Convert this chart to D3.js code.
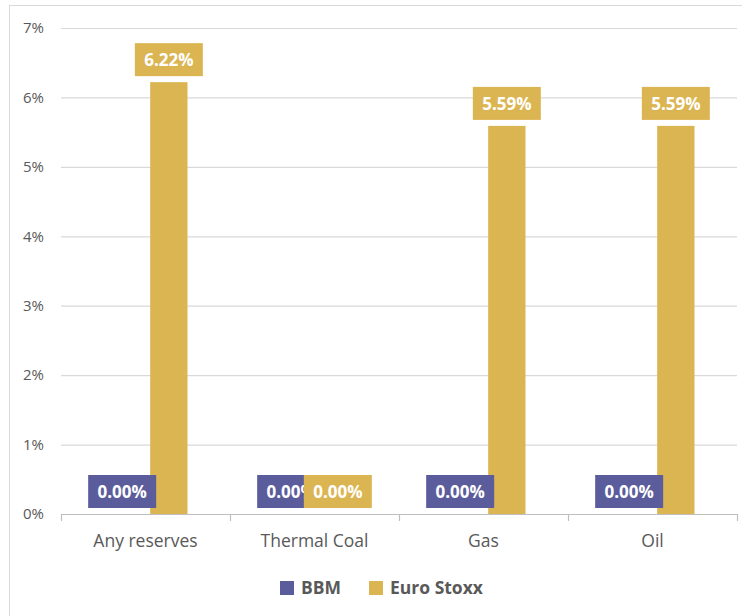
<!DOCTYPE html>
<html>
<head>
<meta charset="utf-8">
<script src="https://cdn.jsdelivr.net/npm/d3@7"></script>
<style>
  body { margin: 0; background: #fff; }
  svg { display: block; font-family: 'Open Sans', 'Noto Sans', sans-serif; }
</style>
</head>
<body>
<div id="chart"></div>
<script>
// Data
var categories = ['Any reserves', 'Thermal Coal', 'Gas', 'Oil'];
var seriesNames = ['BBM', 'Euro Stoxx'];
var bbmValues = [0, 0, 0, 0];
var euroStoxxValues = [6.22, 0, 5.59, 5.59];
var yTicks = [0, 1, 2, 3, 4, 5, 6, 7];

var attrs = {
  svgWidth: 742,
  svgHeight: 616,
  plotLeft: 61,
  plotRight: 737,
  plotTop: 28,
  plotBottom: 514,
  colors: ['#5b5c9c', '#dcb553'],
  textFill: '#595959',
  gridColor: '#d9d9d9'
};

var series = [bbmValues, euroStoxxValues];

var svg = d3.select('#chart').append('svg')
  .attr('width', attrs.svgWidth)
  .attr('height', attrs.svgHeight);

// outer chart frame
svg.append('rect')
  .attr('x', 9.5).attr('y', 5.5)
  .attr('width', 760).attr('height', 640)
  .attr('fill', 'none')
  .attr('stroke', attrs.gridColor);

//scales
var x = d3.scaleBand()
  .domain(categories)
  .range([attrs.plotLeft, attrs.plotRight]);

var xInner = d3.scaleBand()
  .domain(seriesNames)
  .range([x.bandwidth() / 2 - 42, x.bandwidth() / 2 + 42])
  .paddingInner(0.2)
  .paddingOuter(0);

var y = d3.scaleLinear()
  .domain([0, 7])
  .range([attrs.plotBottom, attrs.plotTop]);

// gridlines
svg.append('g')
  .selectAll('line')
  .data(yTicks.filter(d => d > 0))
  .enter().append('line')
  .attr('x1', attrs.plotLeft)
  .attr('x2', attrs.plotRight)
  .attr('y1', d => y(d) + 0.5)
  .attr('y2', d => y(d) + 0.5)
  .attr('stroke', attrs.gridColor)
  .attr('stroke-width', 1.2);

// y axis labels
var yAxis = d3.axisLeft(y).tickValues(yTicks).tickFormat(d => d + '%').tickSize(0).tickPadding(17);
var yG = svg.append('g')
  .attr('transform', 'translate(' + attrs.plotLeft + ',0)')
  .call(yAxis);
yG.select('.domain').remove();
yG.selectAll('text')
  .attr('fill', attrs.textFill)
  .attr('font-size', 15)
  .attr('font-family', "'Open Sans', sans-serif");

// x axis
var xAxis = d3.axisBottom(x).tickSize(0).tickPadding(21);
var xG = svg.append('g')
  .attr('transform', 'translate(0,' + attrs.plotBottom + ')')
  .call(xAxis);
xG.select('.domain').attr('stroke', '#bfbfbf').attr('stroke-width', 1.2);
xG.selectAll('text')
  .attr('fill', attrs.textFill)
  .attr('font-size', 17.5)
  .attr('font-family', "'Open Sans', sans-serif");

// category separators
xG.append('g')
  .selectAll('line')
  .data(categories.map(c => x(c)).concat([attrs.plotRight]))
  .enter().append('line')
  .attr('x1', d => d + 0.5).attr('x2', d => d + 0.5)
  .attr('y1', 0).attr('y2', 7)
  .attr('stroke', '#bfbfbf')
  .attr('stroke-width', 1.2);

// bars
var barData = [];
series.forEach(function (vals, s) {
  vals.forEach(function (v, i) {
    barData.push({ series: seriesNames[s], s: s, cat: categories[i], value: v });
  });
});

svg.append('g')
  .selectAll('rect')
  .data(barData)
  .enter().append('rect')
  .attr('x', d => x(d.cat) + xInner(d.series))
  .attr('width', xInner.bandwidth())
  .attr('y', d => y(d.value))
  .attr('height', d => y(0) - y(d.value))
  .attr('fill', d => attrs.colors[d.s]);

// data labels (series after series, so Euro Stoxx draws on top)
var labW = 68, labH = 33;
var labels = svg.append('g')
  .selectAll('g')
  .data(barData)
  .enter().append('g')
  .attr('transform', function (d) {
    var cx = x(d.cat) + xInner(d.series) + xInner.bandwidth() / 2;
    return 'translate(' + cx + ',' + (y(d.value) - 6 - labH / 2) + ')';
  });

labels.append('rect')
  .attr('x', -labW / 2).attr('y', -labH / 2)
  .attr('width', labW).attr('height', labH)
  .attr('fill', d => attrs.colors[d.s]);

labels.append('text')
  .attr('text-anchor', 'middle')
  .attr('dy', '0.36em')
  .attr('fill', '#fff')
  .attr('font-weight', 'bold')
  .attr('font-size', 17)
  .text(d => d.value.toFixed(2) + '%');

// legend
var legend = svg.append('g').attr('transform', 'translate(280,581)');
var legendX = [0, 89];
seriesNames.forEach(function (name, i) {
  var g = legend.append('g').attr('transform', 'translate(' + legendX[i] + ',0)');
  g.append('rect').attr('width', 14).attr('height', 14).attr('fill', attrs.colors[i]);
  g.append('text')
    .attr('x', 21).attr('y', 7).attr('dy', '0.36em')
    .attr('fill', attrs.textFill)
    .attr('font-weight', 'bold')
    .attr('font-size', 17.5)
    .text(name);
});
</script>
</body>
</html>
